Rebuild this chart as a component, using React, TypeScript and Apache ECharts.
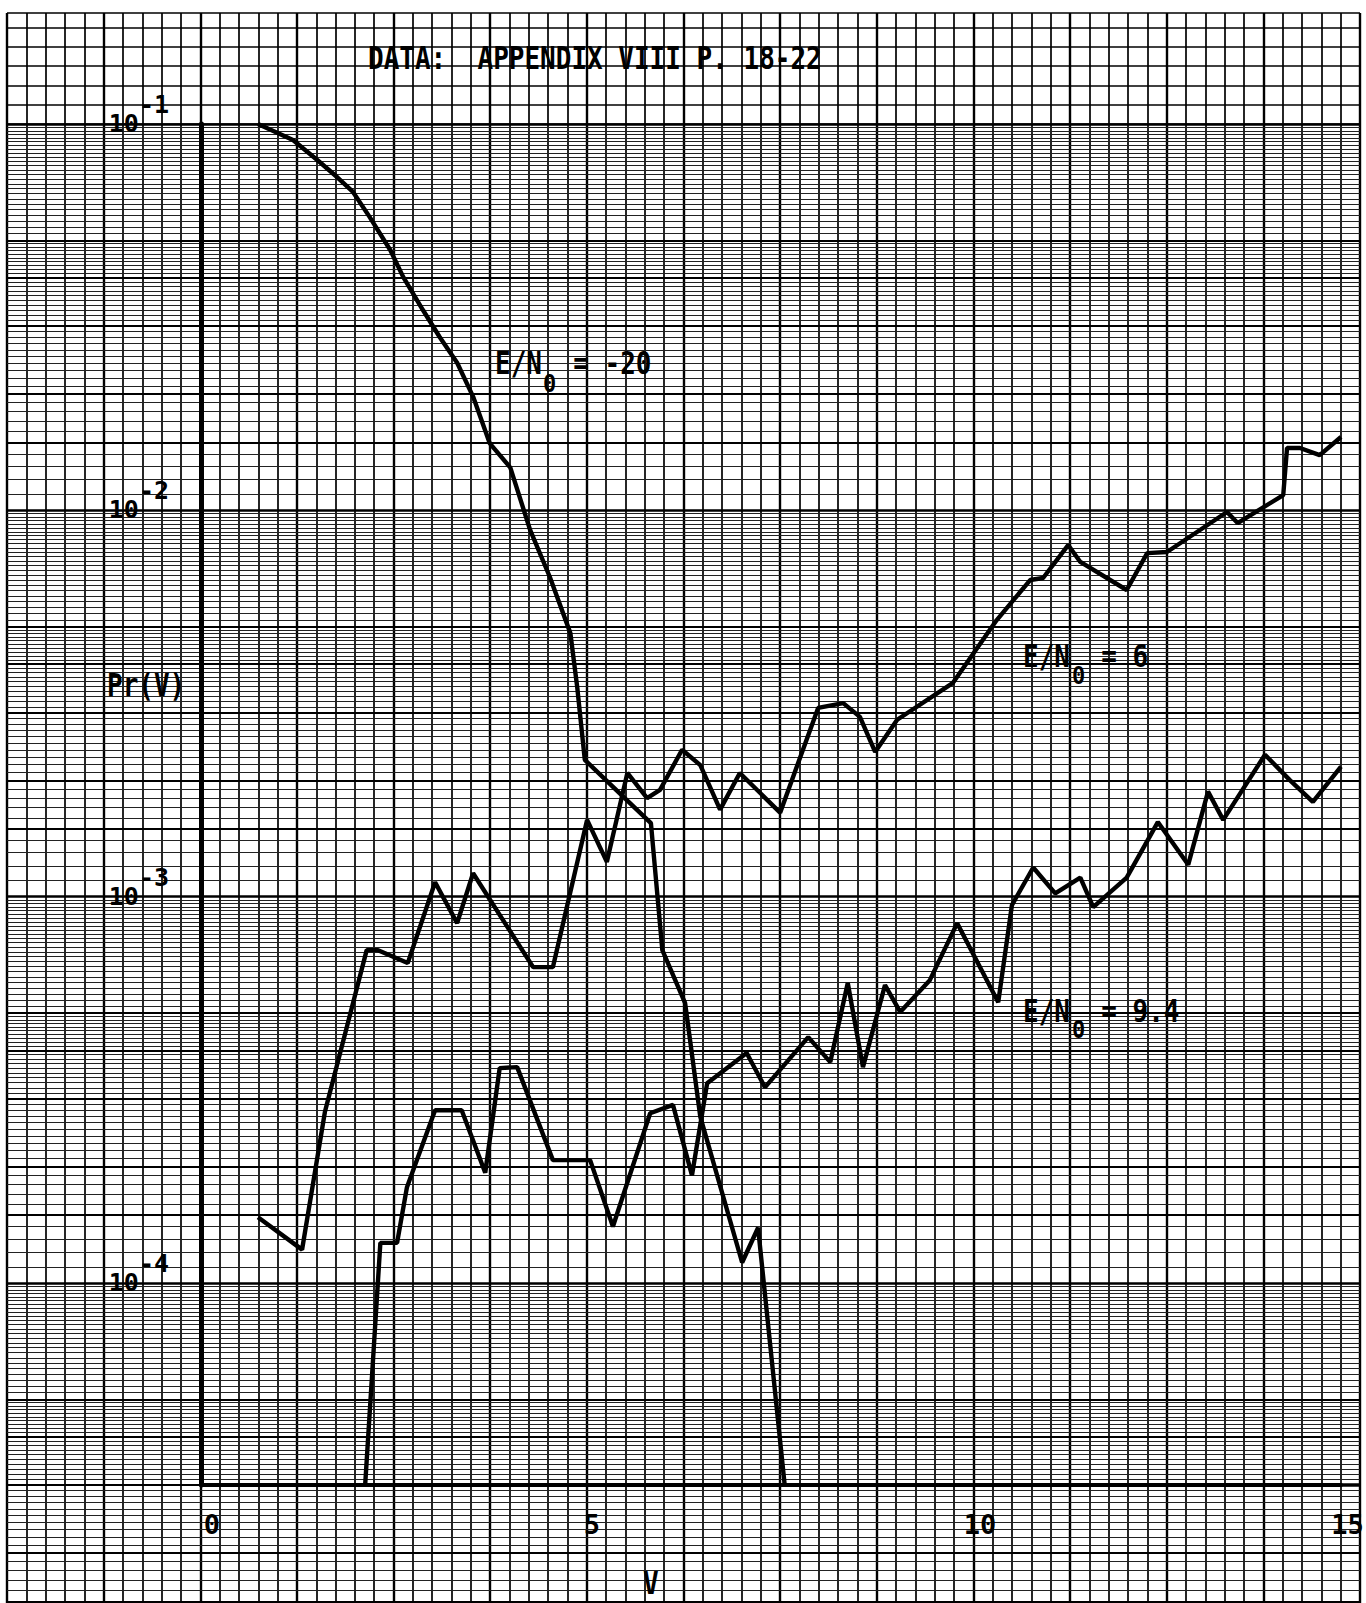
import React, { useEffect, useRef } from 'react';
import * as echarts from 'echarts';

const FONT = '"DejaVu Sans Mono", "Liberation Mono", monospace';

// ---- axis ranges ----
const X_MIN = 0;
const X_MAX = 15;
const X_LABEL_STEP = 5;
const Y_MIN = 3e-5; // the V axis is drawn on the 3x10^-5 ruling; Pr(V) = 0 is plotted on it
const Y_MAX = 0.1;

// ---- data ----
// E/N0 = -20
const vMinus20 = [0.75, 1.21, 1.53, 1.79, 2.0, 2.22, 2.49, 2.66, 2.92, 3.14, 3.37, 3.58, 3.8, 4.07, 4.33, 4.59, 4.86, 4.95, 5.05, 5.51, 5.92, 6.07, 6.37, 6.57, 7.12, 7.33, 7.68];
const prMinus20 = [0.1, 0.0909, 0.0807, 0.0729, 0.0667, 0.0574, 0.0472, 0.0402, 0.033, 0.0281, 0.0241, 0.0197, 0.0149, 0.0129, 0.0089, 0.00672, 0.00481, 0.00349, 0.00226, 0.00185, 0.00155, 0.000727, 0.00053, 0.000269, 0.000113, 0.000139, 0];

// E/N0 = 6
const v6 = [0.75, 1.33, 1.63, 2.18, 2.33, 2.72, 3.08, 3.37, 3.58, 4.37, 4.63, 5.08, 5.34, 5.61, 5.87, 6.04, 6.33, 6.57, 6.83, 7.09, 7.62, 8.12, 8.45, 8.67, 8.87, 9.16, 9.89, 10.47, 10.91, 11.08, 11.41, 11.57, 12.18, 12.45, 12.71, 13.5, 13.64, 14.24, 14.29, 14.46, 14.72, 15.0];
const pr6 = [1.48e-4, 1.22e-4, 2.77e-4, 7.27e-4, 7.27e-4, 6.73e-4, 1.09e-3, 8.54e-4, 1.15e-3, 6.57e-4, 6.57e-4, 1.58e-3, 1.23e-3, 2.09e-3, 1.8e-3, 1.89e-3, 2.4e-3, 2.19e-3, 1.68e-3, 2.09e-3, 1.65e-3, 3.08e-3, 3.17e-3, 2.92e-3, 2.37e-3, 2.87e-3, 3.57e-3, 5.2e-3, 6.6e-3, 6.68e-3, 8.13e-3, 7.35e-3, 6.22e-3, 7.75e-3, 7.8e-3, 9.9e-3, 9.27e-3, 0.01095, 0.0145, 0.0145, 0.0139, 0.01548];

// E/N0 = 9.4
const v94 = [2.16, 2.36, 2.58, 2.71, 3.08, 3.43, 3.74, 3.93, 4.16, 4.63, 5.12, 5.42, 5.91, 6.21, 6.46, 6.66, 7.18, 7.42, 7.99, 8.28, 8.51, 8.71, 9.0, 9.2, 9.59, 9.95, 10.49, 10.67, 10.95, 11.24, 11.57, 11.74, 12.18, 12.59, 12.99, 13.25, 13.45, 14.0, 14.33, 14.63, 15.0];
const pr94 = [0, 1.27e-4, 1.27e-4, 1.77e-4, 2.8e-4, 2.8e-4, 1.93e-4, 3.6e-4, 3.62e-4, 2.08e-4, 2.08e-4, 1.4e-4, 2.75e-4, 2.89e-4, 1.9e-4, 3.29e-4, 3.94e-4, 3.21e-4, 4.33e-4, 3.73e-4, 5.98e-4, 3.62e-4, 5.9e-4, 5.03e-4, 6.08e-4, 8.54e-4, 5.33e-4, 9.51e-4, 1.19e-3, 1.02e-3, 1.12e-3, 9.4e-4, 1.12e-3, 1.56e-3, 1.21e-3, 1.87e-3, 1.58e-3, 2.33e-3, 2.0e-3, 1.76e-3, 2.17e-3];

// ---- texts ----
const TITLE = 'DATA:  APPENDIX VIII P. 18-22';
const Y_TITLE = 'Pr(V)';
const X_TITLE = 'V';
const CURVE_LABELS = ['E/N  = -20', 'E/N  = 6', 'E/N  = 9.4'];

// ---- graph-paper geometry (page pixels) ----
const W = 1366;
const H = 1603;
const PAPER_LEFT = 7;
const PAPER_RIGHT = 1360;
const PAPER_TOP = 13;
const PLOT_LEFT = 201;
const PLOT_RIGHT = 1341;
const PLOT_TOP = 124;
const PLOT_BOTTOM = 1485;
const PX_PER_DECADE = (PLOT_BOTTOM - PLOT_TOP) / (Math.log10(Y_MAX) - Math.log10(Y_MIN));
const PAPER_MAX = Math.pow(10, Math.log10(Y_MAX) + (PLOT_TOP - PAPER_TOP) / PX_PER_DECADE);
const PAPER_MIN = Math.pow(10, Math.log10(Y_MAX) - (H - PLOT_TOP) / PX_PER_DECADE);
const CELLS = 70;
const CELL = (PAPER_RIGHT - PAPER_LEFT) / CELLS;

function paperRulings() {
  const out: any[] = [];
  const heavy = new Set([15, 20, 30, 40, 50]);
  for (let e = -5; e <= -2; e++) {
    const ks: number[] = [];
    for (let k = 10; k < 50; k++) ks.push(k);
    for (let k = 50; k < 100; k += 2) ks.push(k);
    for (const k of ks) {
      const val = (k / 10) * Math.pow(10, e);
      if (val < PAPER_MIN || val > Y_MAX) continue;
      out.push({
        yAxis: val,
        lineStyle: { width: k === 10 ? 2.6 : heavy.has(k) ? 2 : 1, color: k === 10 || heavy.has(k) ? '#000' : '#222', type: 'solid' },
      });
    }
  }
  out.push({ yAxis: Y_MAX, lineStyle: { width: 2.6, color: '#000', type: 'solid' } });
  // the hand-drawn V axis runs on past 15 to the paper edge
  const axisStartCell = (PLOT_LEFT - PAPER_LEFT) / CELL;
  out.push([
    { coord: [axisStartCell, Y_MIN], lineStyle: { width: 3.6, color: '#000', type: 'solid' } },
    { coord: [CELLS, Y_MIN] },
  ]);
  return out;
}

function pts(v: number[], p: number[]) {
  return v.map((x, i) => [x, p[i] === 0 ? Y_MIN : p[i]]);
}

function txt(x: number, y: number, text: string, size = 26, sy = 1.2) {
  return {
    type: 'text',
    x,
    y,
    scaleY: sy,
    silent: true,
    z: 20,
    style: {
      text,
      fill: '#000',
      font: `bold ${size}px ${FONT}`,
      align: 'left',
      verticalAlign: 'middle',
    },
  };
}

const LBL = { fontFamily: FONT, fontWeight: 'bold', fontSize: 27, color: '#000' };

export default function App() {
  const ref = useRef<HTMLDivElement>(null);
  useEffect(() => {
    const chart = echarts.init(ref.current!, null, { renderer: 'svg' });
    const curveStyle = { color: '#000', width: 4.4 };
    const noBounds = { containLabel: false, outerBoundsMode: 'none' };
    const option: any = {
      animation: false,
      backgroundColor: '#fff',
      grid: [
        { ...noBounds, left: PAPER_LEFT, right: W - PAPER_RIGHT, top: PAPER_TOP, bottom: 0 },
        { ...noBounds, left: PAPER_LEFT, right: W - PAPER_RIGHT, top: PAPER_TOP, height: PLOT_TOP - PAPER_TOP },
        { ...noBounds, left: PLOT_LEFT, right: W - PLOT_RIGHT, top: PLOT_TOP, bottom: H - PLOT_BOTTOM },
      ],
      xAxis: [
        {
          gridIndex: 0, type: 'value', min: 0, max: CELLS, interval: 5,
          axisLine: { show: false }, axisTick: { show: false }, axisLabel: { show: false },
          splitLine: { show: true, lineStyle: { color: '#000', width: 2.4 } },
          minorTick: { show: false, splitNumber: 5 },
          minorSplitLine: { show: true, lineStyle: { color: '#000', width: 1.7 } },
        },
        { gridIndex: 1, type: 'value', min: 0, max: 1, show: false },
        {
          gridIndex: 2, type: 'value', min: X_MIN, max: X_MAX, interval: X_LABEL_STEP, z: 5,
          axisLine: { onZero: false, lineStyle: { color: '#000', width: 4 } },
          axisTick: { show: false },
          splitLine: { show: false },
          axisLabel: {
            align: 'center', verticalAlign: 'top', margin: 26,
            formatter: (val: number) => {
              const s = String(val);
              if (val === X_MAX) return `{m|${s}}`;
              return s.length > 1 ? `{d|${s}}` : `{s|${s}}`;
            },
            rich: {
              s: { ...LBL, padding: [0, 0, 0, 22] },
              d: { ...LBL, padding: [0, 0, 0, 38] },
              m: { ...LBL, padding: [0, 0, 0, 13] },
            },
          },
        },
      ],
      yAxis: [
        { gridIndex: 0, type: 'log', min: PAPER_MIN, max: PAPER_MAX, show: false },
        {
          gridIndex: 1, type: 'value', min: 0, max: (PLOT_TOP - PAPER_TOP) / CELL, interval: 1,
          axisLine: { show: false }, axisTick: { show: false }, axisLabel: { show: false },
          splitLine: { show: true, lineStyle: { color: '#000', width: 1.6 } },
        },
        {
          gridIndex: 2, type: 'log', min: Y_MIN, max: Y_MAX, z: 5,
          axisLine: { onZero: false, lineStyle: { color: '#000', width: 5 } },
          axisTick: { show: false },
          splitLine: { show: false },
          axisLabel: {
            margin: 32,
            padding: [0, 0, 20, 0],
            formatter: (val: number) => {
              const l = Math.log10(val);
              const e = Math.round(l);
              if (Math.abs(l - e) > 1e-6) return '';
              return `{b|10}{s|${e}}`;
            },
            rich: {
              b: { ...LBL, fontSize: 25, lineHeight: 44, verticalAlign: 'bottom' },
              s: { ...LBL, fontSize: 25, verticalAlign: 'top' },
            },
          },
        },
      ],
      series: [
        {
          type: 'line', xAxisIndex: 0, yAxisIndex: 0, data: [[0, Y_MAX]], silent: true, z: 1,
          showSymbol: false, lineStyle: { width: 0 },
          markLine: {
            silent: true, symbol: ['none', 'none'], label: { show: false },
            precision: 20,
            emphasis: { disabled: true },
            lineStyle: { type: 'solid', color: '#000', width: 1 },
            data: paperRulings(),
          },
        },
        { type: 'line', name: 'E/N0 = -20', xAxisIndex: 2, yAxisIndex: 2, data: pts(vMinus20, prMinus20), symbol: 'none', lineStyle: curveStyle, z: 10, silent: true },
        { type: 'line', name: 'E/N0 = 6', xAxisIndex: 2, yAxisIndex: 2, data: pts(v6, pr6), symbol: 'none', lineStyle: curveStyle, z: 10, silent: true },
        { type: 'line', name: 'E/N0 = 9.4', xAxisIndex: 2, yAxisIndex: 2, data: pts(v94, pr94), symbol: 'none', lineStyle: curveStyle, z: 10, silent: true },
      ],
      graphic: [
        txt(368, 58, TITLE),
        txt(107, 685, Y_TITLE),
        txt(643, 1583, X_TITLE),
        txt(495, 363, CURVE_LABELS[0]),
        txt(543, 384, '0', 22, 1.1),
        txt(1023, 656, CURVE_LABELS[1]),
        txt(1072, 676, '0', 22, 1.1),
        txt(1023, 1011, CURVE_LABELS[2]),
        txt(1072, 1030, '0', 22, 1.1),
      ],
    };
    chart.setOption(option);
    return () => chart.dispose();
  }, []);
  return (
    <div
      ref={ref}
      style={{ position: 'absolute', left: 0, top: 0, width: W, height: H, background: '#fff' }}
    />
  );
}
